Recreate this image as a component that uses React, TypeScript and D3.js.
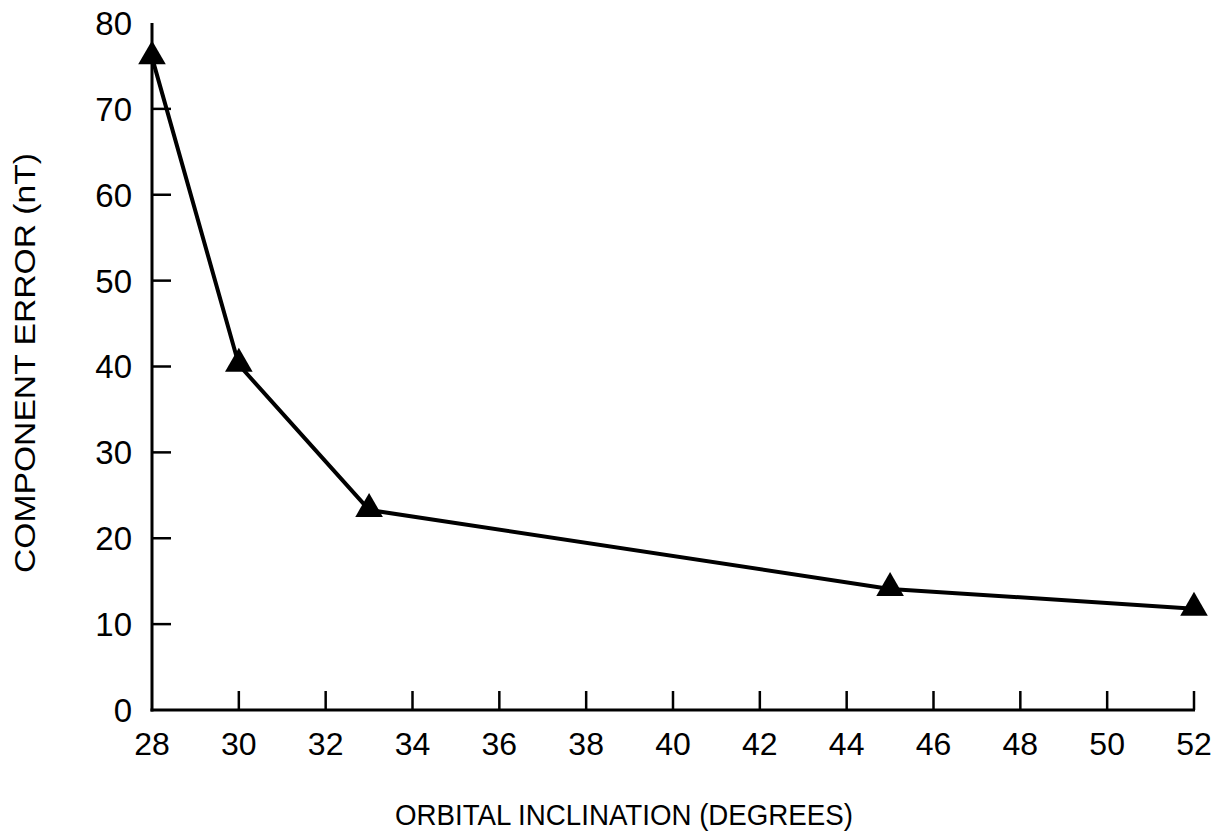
import React from "react";
import * as d3 from "d3";

const inclination = [28, 30, 33, 45, 52];
const componentError = [76, 40.2, 23.3, 14.1, 11.8];
const xTicks = [28, 30, 32, 34, 36, 38, 40, 42, 44, 46, 48, 50, 52];
const yTicks = [0, 10, 20, 30, 40, 50, 60, 70, 80];

const W = 1219;
const H = 835;
const m = { left: 152, right: 1194, top: 23, bottom: 710 };
const FONT = "'Liberation Sans', Arial, Helvetica, sans-serif";

export default function App() {
  const x = d3.scaleLinear().domain([28, 52]).range([m.left, m.right]);
  const y = d3.scaleLinear().domain([0, 80]).range([m.bottom, m.top]);
  const pts = inclination.map((v, i) => [x(v), y(componentError[i])] as [number, number]);
  const line = d3.line()(pts) || "";
  const tri = d3.symbol().type(d3.symbolTriangle).size(330)() || "";

  return (
    <svg width={W} height={H} style={{ position: "absolute", left: 0, top: 0, background: "#fff" }}>
      <rect width={W} height={H} fill="#fff" />
      {/* axes */}
      <line x1={m.left} x2={m.left} y1={m.top} y2={m.bottom + 1.5} stroke="#000" strokeWidth={3} />
      <line x1={m.left - 1.5} x2={m.right + 1} y1={m.bottom} y2={m.bottom} stroke="#000" strokeWidth={3} />
      {yTicks.map((t) => (
        <g key={"y" + t}>
          {t > 0 && t < 80 && (
            <line x1={m.left} x2={m.left + 19} y1={y(t)} y2={y(t)} stroke="#000" strokeWidth={2.5} />
          )}
          <text x={132} y={y(t)} dy="0.36em" textAnchor="end" fontFamily={FONT} fontSize={33} fill="#000">
            {t}
          </text>
        </g>
      ))}
      {xTicks.map((t) => (
        <g key={"x" + t}>
          {t > 28 && (
            <line x1={x(t)} x2={x(t)} y1={m.bottom} y2={m.bottom - 19} stroke="#000" strokeWidth={2.5} />
          )}
          <text x={x(t)} y={755} textAnchor="middle" fontFamily={FONT} fontSize={32} fill="#000">
            {t}
          </text>
        </g>
      ))}
      <path d={line} fill="none" stroke="#000" strokeWidth={4} strokeLinejoin="round" />
      {pts.map((p, i) => (
        <path key={i} d={tri} transform={`translate(${p[0]},${p[1] - 1})`} fill="#000" />
      ))}
      <text
        x={395}
        y={825}
        fontFamily={FONT}
        fontSize={30}
        fill="#000"
        textLength={458}
        lengthAdjust="spacingAndGlyphs"
      >
        ORBITAL INCLINATION (DEGREES)
      </text>
      <text
        transform={`translate(35,573) rotate(-90)`}
        fontFamily={FONT}
        fontSize={30}
        fill="#000"
        textLength={420}
        lengthAdjust="spacingAndGlyphs"
      >
        COMPONENT ERROR (nT)
      </text>
    </svg>
  );
}
